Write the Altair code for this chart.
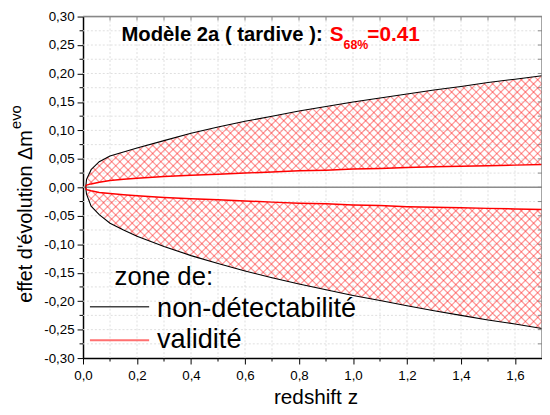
import altair as alt
import numpy as np
import pandas as pd

# ---------------- data ----------------
z = [0.010, 0.013, 0.03, 0.06, 0.1, 0.15, 0.2, 0.3, 0.4, 0.5, 0.6, 0.7, 0.8,
     0.9, 1.0, 1.1, 1.2, 1.3, 1.4, 1.5, 1.6, 1.7]
outer_upper = [0.000, 0.014, 0.031, 0.045, 0.055, 0.062, 0.069, 0.082, 0.095,
               0.106, 0.116, 0.125, 0.134, 0.142, 0.150, 0.157, 0.164, 0.171,
               0.177, 0.184, 0.190, 0.196]
outer_lower = [0.000, -0.012, -0.033, -0.048, -0.063, -0.075, -0.086, -0.104,
               -0.120, -0.134, -0.147, -0.159, -0.170, -0.180, -0.190, -0.199,
               -0.208, -0.217, -0.225, -0.233, -0.240, -0.248]
inner_upper = [0.001, 0.004, 0.006, 0.009, 0.012, 0.014, 0.016, 0.019, 0.021,
               0.023, 0.025, 0.027, 0.029, 0.030, 0.032, 0.033, 0.035, 0.036,
               0.037, 0.038, 0.039, 0.040]
inner_lower = [-0.001, -0.004, -0.006, -0.009, -0.011, -0.013, -0.015, -0.018,
               -0.020, -0.022, -0.024, -0.026, -0.028, -0.029, -0.031, -0.032,
               -0.034, -0.035, -0.036, -0.037, -0.038, -0.039]

x_major = [0.0, 0.2, 0.4, 0.6, 0.8, 1.0, 1.2, 1.4, 1.6]
x_minor = [0.1, 0.3, 0.5, 0.7, 0.9, 1.1, 1.3, 1.5]
x_all = [0.1, 0.2, 0.3, 0.4, 0.5, 0.6, 0.7, 0.8, 0.9, 1.0, 1.1, 1.2, 1.3, 1.4, 1.5, 1.6]
y_major = [-0.30, -0.25, -0.20, -0.15, -0.10, -0.05, 0.0, 0.05, 0.10, 0.15, 0.20, 0.25, 0.30]
y_minor = [-0.275, -0.225, -0.175, -0.125, -0.075, -0.025, 0.025, 0.075, 0.125, 0.175, 0.225, 0.275]
y_all = sorted(y_minor + [v for v in y_major if abs(v) < 0.3])

title_black = "Modèle 2a ( tardive ): "
title_s = "S"
title_sub = "68%"
title_val = "=0.41"
legend_head = "zone de:"
legend_items = ["non-détectabilité", "validité"]
y_title = "effet d'évolution Δm"
y_title_sup = "evo"
x_title = "redshift z"

W, H = 465, 346
XD, YD = [0, 1.7], [-0.3, 0.3]
FONT = "Liberation Sans"

xs = alt.Scale(domain=XD, nice=False, zero=False)
ys = alt.Scale(domain=YD, nice=False, zero=False)

xaxis = alt.Axis(
    values=x_major,
    labelExpr="replace(format(datum.value,'.1f'),'.',',')",
    tickSize=6, tickColor="black", tickWidth=1,
    domainColor="black", domainWidth=1.5,
    labelFontSize=13.5, labelColor="black", labelFont=FONT, labelPadding=5,
    labelFlush=False, labelOverlap=False,
    grid=False, title=None,
)
yaxis = alt.Axis(
    values=y_major,
    labelExpr="replace(replace(format(datum.value,'.2f'),'.',','),'\u2212','-')",
    tickSize=6, tickColor="black", tickWidth=1,
    domainColor="black", domainWidth=1.5,
    labelFontSize=13.5, labelColor="black", labelFont=FONT, labelPadding=3,
    labelFlush=False, labelOverlap=False,
    grid=False, title=None,
)


def X(f):
    return alt.X(f, type="quantitative", scale=xs, axis=xaxis)


def Y(f):
    return alt.Y(f, type="quantitative", scale=ys, axis=yaxis)


# ---------------- curves ----------------
rows = []
for name, arr in [("ou", outer_upper), ("ol", outer_lower), ("iu", inner_upper), ("il", inner_lower)]:
    for zi, v in zip(z, arr):
        rows.append({"z": zi, "v": v, "s": name})
curves = pd.DataFrame(rows)

# ---------------- cross hatching between curves ----------------
zz = np.linspace(z[0], z[-1], 1600)
k = (W / (XD[1] - XD[0])) / (H / (YD[1] - YD[0]))
dc = 8.3 / (H / (YD[1] - YD[0]))


def hatch(lo_arr, hi_arr):
    lo = np.interp(zz, z, lo_arr)
    hi = np.interp(zz, z, hi_arr)
    segs = []
    for s in (1, -1):
        for c in np.arange(-1.2, 1.2, dc):
            yl = c + s * k * zz
            m = (yl >= lo) & (yl <= hi)
            if not m.any():
                continue
            idx = np.flatnonzero(m)
            br = np.flatnonzero(np.diff(idx) > 1)
            starts = np.r_[idx[0], idx[br + 1]]
            ends = np.r_[idx[br], idx[-1]]
            for a, b in zip(starts, ends):
                if b > a:
                    segs.append({"x": zz[a], "y": yl[a], "x2": zz[b], "y2": yl[b]})
    return segs


hatch_df = pd.DataFrame(hatch(inner_upper, outer_upper) + hatch(outer_lower, inner_lower))

one = pd.DataFrame({"a": [0]})


def base(df):
    return alt.Chart(df)


grid_v = base(pd.DataFrame({"v": x_all})).mark_rule(
    color="#dedede", strokeDash=[2, 2], strokeWidth=1
).encode(x=X("v"), y=alt.value(0), y2=alt.value(H))

grid_h = base(pd.DataFrame({"v": y_all})).mark_rule(
    color="#dedede", strokeDash=[2, 2], strokeWidth=1
).encode(y=Y("v"), x=alt.value(0), x2=alt.value(W))

hatch_layer = base(hatch_df).mark_rule(color="#ff2020", strokeWidth=1.25, opacity=0.45).encode(
    x=X("x"), y=Y("y"), x2="x2:Q", y2="y2:Q",
)

zero_line = base(pd.DataFrame({"v": [0.0]})).mark_rule(color="#8c8c8c", strokeWidth=1.5).encode(
    y=Y("v"), x=alt.value(0), x2=alt.value(W)
)

outer_layer = base(curves[curves.s.isin(["ou", "ol"])]).mark_line(color="black", strokeWidth=1.1).encode(
    x=X("z"), y=Y("v"), detail="s:N", order="z:Q",
)
inner_layer = base(curves[curves.s.isin(["iu", "il"])]).mark_line(color="#ff0000", strokeWidth=1.5).encode(
    x=X("z"), y=Y("v"), detail="s:N", order="z:Q",
)

# minor ticks and mirrored frame
tick_bottom = base(pd.DataFrame({"v": x_minor})).mark_rule(color="black").encode(
    x=X("v"), y=alt.value(H), y2=alt.value(H + 3.5))
tick_left = base(pd.DataFrame({"v": y_minor})).mark_rule(color="black").encode(
    y=Y("v"), x=alt.value(-3.5), x2=alt.value(0))
tick_top = base(pd.DataFrame({"v": x_all})).mark_rule(color="#888888").encode(
    x=X("v"), y=alt.value(0), y2=alt.value(4))
tick_right = base(pd.DataFrame({"v": y_all})).mark_rule(color="#888888").encode(
    y=Y("v"), x=alt.value(W - 4), x2=alt.value(W))
frame_top = base(one).mark_rule(color="#888888", strokeWidth=1.5).encode(
    x=alt.value(0), x2=alt.value(W), y=alt.value(0))
frame_right = base(one).mark_rule(color="#888888", strokeWidth=1.5).encode(
    x=alt.value(W), y=alt.value(0), y2=alt.value(H))


def txt(s, x, y, size, color="black", weight="normal", angle=0, align="left"):
    kw = dict(fontSize=size, color=color, fontWeight=weight, align=align,
              baseline="alphabetic", font=FONT)
    if angle:
        kw["angle"] = angle
    return base(pd.DataFrame({"t": [s]})).mark_text(**kw).encode(
        text="t:N", x=alt.value(x), y=alt.value(y))


texts = [
    txt(title_black, 39, 25, 20.5, weight="bold"),
    txt(title_s, 250, 25, 21, color="#ff0000", weight="bold"),
    txt(title_sub, 264, 33, 12.5, color="#ff0000", weight="bold"),
    txt(title_val, 288, 25, 21, color="#ff0000", weight="bold"),
    txt(legend_head, 32, 272, 26),
    txt(legend_items[0], 75, 304, 27.5),
    txt(legend_items[1], 75, 336, 27.5),
    txt(y_title, -52, 290, 20, angle=270),
    txt(y_title_sup, -63, 114, 15, angle=270),
    txt(x_title, 236, 393, 21, align="center"),
]

leg_black = base(one).mark_rule(color="#444444", strokeWidth=1.5).encode(
    x=alt.value(7), x2=alt.value(67), y=alt.value(294))
leg_red = base(one).mark_rule(color="#ff7070", strokeWidth=2).encode(
    x=alt.value(7), x2=alt.value(67), y=alt.value(328))

chart = alt.layer(
    grid_v, grid_h, hatch_layer, zero_line, outer_layer, inner_layer,
    tick_bottom, tick_left, tick_top, tick_right, frame_top, frame_right,
    leg_black, leg_red, *texts,
).properties(
    width=W, height=H,
    autosize="none",
    padding={"left": 76, "top": 6, "right": 0, "bottom": 55},
    background="white",
).configure_view(stroke=None).configure(font=FONT)

chart.save("out.html", embed_options={"renderer": "svg", "actions": False})
